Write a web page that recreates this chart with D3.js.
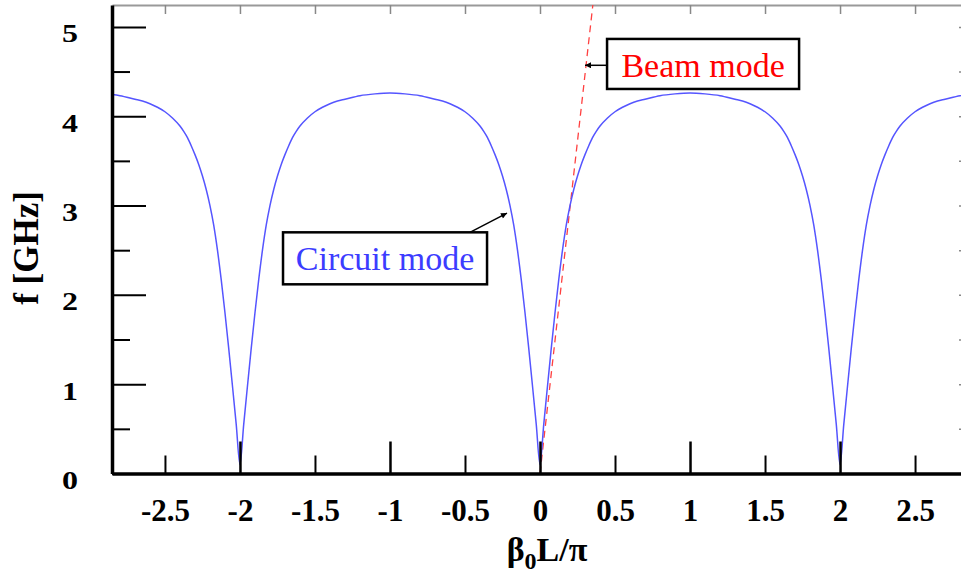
<!DOCTYPE html>
<html>
<head>
<meta charset="utf-8">
<script src="https://cdn.jsdelivr.net/npm/d3@7"></script>
<style>
body { margin: 0; background: #fff; }
</style>
</head>
<body>
<div id="chart"></div>
<script>
// circuit mode, read along one half arch: distance from nearest zero (beta0 L / pi) and f [GHz]
const archD = [0, 0.025, 0.05, 0.075, 0.1, 0.125, 0.15, 0.175, 0.2, 0.225, 0.25, 0.275, 0.3, 0.325, 0.35, 0.375, 0.4, 0.45, 0.5, 0.55, 0.6, 0.65, 0.7, 0.8, 0.9, 1.0];
const archF = [0.1, 0.55, 0.98, 1.40, 1.80, 2.17, 2.50, 2.78, 3.00, 3.18, 3.33, 3.46, 3.57, 3.67, 3.76, 3.83, 3.89, 3.98, 4.05, 4.10, 4.14, 4.17, 4.19, 4.23, 4.25, 4.26];
const archZeros = [-2, 0, 2];

// beam mode line
const beamX = [0, 0.36];
const beamF = [0, 5.36];

const xMajor = [-2, -1, 0, 1, 2];
const xMinor = [-2.5, -1.5, -0.5, 0.5, 1.5, 2.5];
const yMajor = [0, 1, 2, 3, 4, 5];
const yMinor = [0.5, 1.5, 2.5, 3.5, 4.5];

const width = 961, height = 574;
const serif = "'Liberation Serif', 'Times New Roman', serif";

const svg = d3.select("#chart")
    .append("svg")
    .attr("width", width)
    .attr("height", height)
    .style("background", "#fff");

const x = d3.scaleLinear().domain([-2.853, 2.853]).range([112, 968]);
const y = d3.scaleLinear().domain([0, 5.245]).range([473.5, 5]);

// build circuit curve from the half arch readings
let circuit = [];
archZeros.forEach(z => {
    archD.forEach((d, i) => {
        circuit.push({ x: z - d, f: archF[i] });
        if (d > 0) circuit.push({ x: z + d, f: archF[i] });
    });
});
circuit.sort((a, b) => a.x - b.x);
circuit = circuit.filter((p, i) => i === 0 || Math.abs(p.x - circuit[i - 1].x) > 1e-9);

const beam = beamX.map((v, i) => ({ x: v, f: beamF[i] }));

svg.append("clipPath")
    .attr("id", "plot-clip")
    .append("rect")
    .attr("x", x.range()[0])
    .attr("y", y.range()[1])
    .attr("width", x.range()[1] - x.range()[0])
    .attr("height", y.range()[0] - y.range()[1]);

const line = d3.line()
    .x(d => x(d.x))
    .y(d => y(d.f));

// top and right frame (gray)
const allX = xMajor.concat(xMinor);
const allY = yMajor.concat(yMinor);

const topAxis = svg.append("g")
    .attr("transform", `translate(0,${y.range()[1]})`)
    .call(d3.axisTop(x).tickValues(allX).tickSize(-9).tickSizeOuter(0).tickFormat(""));
topAxis.select(".domain").attr("stroke", "#999").attr("stroke-width", 2);
topAxis.selectAll(".tick line").attr("stroke", "#888").attr("stroke-width", 1.5);

const rightAxis = svg.append("g")
    .attr("transform", `translate(${x.range()[1]},0)`)
    .call(d3.axisRight(y).tickValues(allY).tickSize(-9).tickSizeOuter(0).tickFormat(""));
rightAxis.select(".domain").attr("stroke", "#999").attr("stroke-width", 2);
rightAxis.selectAll(".tick line").attr("stroke", "#888").attr("stroke-width", 1.5);

// curves
svg.append("path")
    .datum(beam)
    .attr("clip-path", "url(#plot-clip)")
    .attr("fill", "none")
    .attr("stroke", "#ff4040")
    .attr("stroke-width", 1.3)
    .attr("stroke-dasharray", "7,5")
    .attr("d", line);

svg.append("path")
    .datum(circuit)
    .attr("clip-path", "url(#plot-clip)")
    .attr("fill", "none")
    .attr("stroke", "#5555ff")
    .attr("stroke-width", 1.5)
    .attr("d", line.curve(d3.curveMonotoneX));

// bottom axis
const bottomMinor = svg.append("g")
    .attr("transform", `translate(0,${y(0)})`)
    .call(d3.axisBottom(x).tickValues(xMinor).tickSize(-18).tickFormat(d => String(d)));
bottomMinor.select(".domain").remove();
bottomMinor.selectAll(".tick line").attr("stroke", "#000").attr("stroke-width", 2);

const bottomMajor = svg.append("g")
    .attr("transform", `translate(0,${y(0)})`)
    .call(d3.axisBottom(x).tickValues(xMajor).tickSize(-32).tickSizeOuter(0).tickFormat(d => String(d)));
bottomMajor.select(".domain").attr("stroke", "#000").attr("stroke-width", 3.5);
bottomMajor.selectAll(".tick line").attr("stroke", "#000").attr("stroke-width", 2.5);

[bottomMinor, bottomMajor].forEach(g => {
    g.attr("font-family", null).attr("font-size", null);
    g.selectAll("text")
        .attr("y", 47)
        .attr("dy", 0)
        .attr("fill", "#000")
        .style("font-family", serif)
        .style("font-weight", "bold")
        .style("font-size", "31px");
});

// left axis
const leftMinor = svg.append("g")
    .attr("transform", `translate(${x.range()[0]},0)`)
    .call(d3.axisLeft(y).tickValues(yMinor).tickSize(-18).tickFormat(""));
leftMinor.select(".domain").remove();
leftMinor.selectAll(".tick line").attr("stroke", "#000").attr("stroke-width", 2);

const leftMajor = svg.append("g")
    .attr("transform", `translate(${x.range()[0]},0)`)
    .call(d3.axisLeft(y).tickValues(yMajor).tickSize(-34).tickSizeOuter(0).tickFormat(d3.format("d")));
leftMajor.select(".domain").attr("stroke", "#000").attr("stroke-width", 3.5);
leftMajor.selectAll(".tick line").attr("stroke", "#000").attr("stroke-width", 2);
leftMajor.attr("font-family", null).attr("font-size", null);
leftMajor.selectAll("text")
    .attr("x", -34)
    .attr("dy", 15)
    .attr("fill", "#000")
    .attr("textLength", 16)
    .attr("lengthAdjust", "spacingAndGlyphs")
    .style("font-family", serif)
    .style("font-weight", "bold")
    .style("font-size", "26px");

// axis titles
svg.append("text")
    .attr("transform", "translate(38,248) rotate(-90)")
    .attr("text-anchor", "middle")
    .style("font-family", serif)
    .style("font-weight", "bold")
    .style("font-size", "35px")
    .text("f [GHz]");

const xTitle = svg.append("text")
    .attr("x", 547)
    .attr("y", 561)
    .attr("text-anchor", "middle")
    .style("font-family", serif)
    .style("font-weight", "bold")
    .style("font-size", "34px");
xTitle.append("tspan").text("β");
xTitle.append("tspan").attr("dy", 8).style("font-size", "24px").text("0");
xTitle.append("tspan").attr("dy", -8).text("L/π");

// annotations
svg.append("defs").append("marker")
    .attr("id", "arrow")
    .attr("viewBox", "0 0 10 10")
    .attr("refX", 10)
    .attr("refY", 5)
    .attr("markerWidth", 8)
    .attr("markerHeight", 6)
    .attr("markerUnits", "userSpaceOnUse")
    .attr("orient", "auto")
    .append("path")
    .attr("d", "M0,0 L10,5 L0,10 z")
    .attr("fill", "#000");

const notes = [
    { text: "Beam mode", color: "#ff0000", x0: 0.447, x1: 1.727, f0: 4.865, f1: 4.305,
      from: [0.447, 4.57], to: [0.3, 4.57] },
    { text: "Circuit mode", color: "#3c3cff", x0: -1.713, x1: -0.353, f0: 2.70, f1: 2.118,
      from: [-0.467, 2.70], to: [-0.22, 2.915] }
];

notes.forEach(n => {
    svg.append("line")
        .attr("x1", x(n.from[0]))
        .attr("y1", y(n.from[1]))
        .attr("x2", x(n.to[0]))
        .attr("y2", y(n.to[1]))
        .attr("stroke", "#000")
        .attr("stroke-width", 1.5)
        .attr("marker-end", "url(#arrow)");

    svg.append("rect")
        .attr("x", x(n.x0))
        .attr("y", y(n.f0))
        .attr("width", x(n.x1) - x(n.x0))
        .attr("height", y(n.f1) - y(n.f0))
        .attr("fill", "#fff")
        .attr("stroke", "#000")
        .attr("stroke-width", 2.5);

    svg.append("text")
        .attr("x", (x(n.x0) + x(n.x1)) / 2)
        .attr("y", y(n.f0) + 38)
        .attr("text-anchor", "middle")
        .attr("fill", n.color)
        .style("font-family", serif)
        .style("font-size", "34px")
        .text(n.text);
});
</script>
</body>
</html>
